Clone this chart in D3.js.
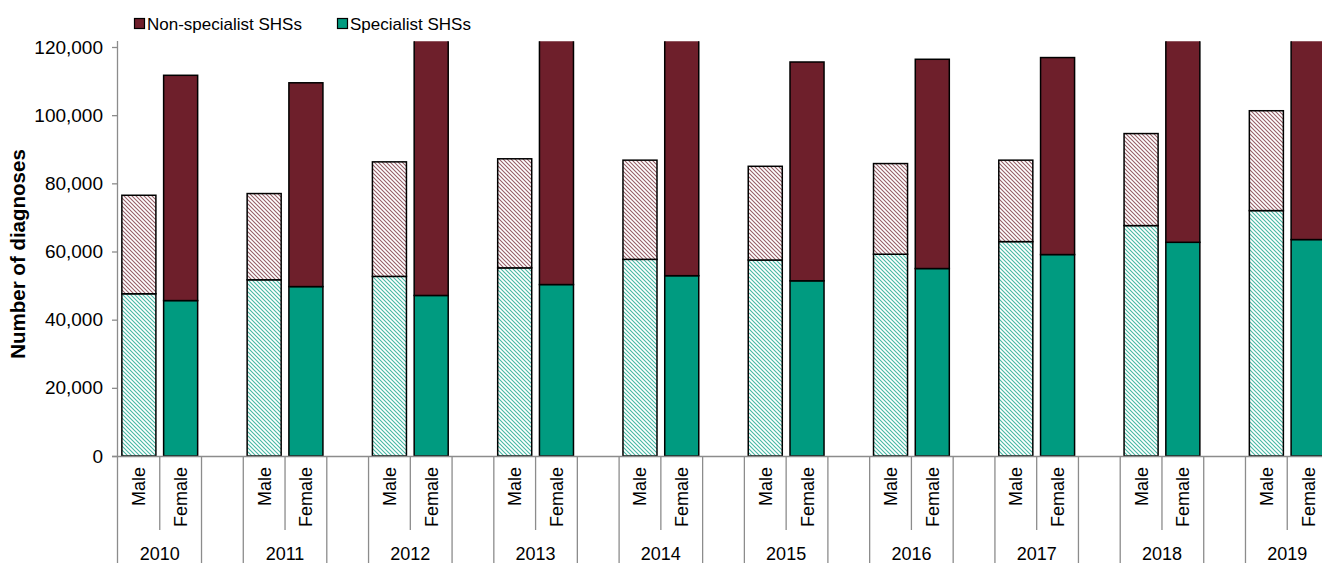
<!DOCTYPE html>
<html>
<head>
<meta charset="utf-8">
<script src="https://cdn.jsdelivr.net/npm/d3@7"></script>
<style>
  html, body { margin: 0; padding: 0; background: #fff; }
  svg { display: block; font-family: "Liberation Sans", Arial, sans-serif; }
</style>
</head>
<body>
<svg id="chart" width="1322" height="563"></svg>
<script>
// ---- data ----
const years = ["2010", "2011", "2012", "2013", "2014", "2015", "2016", "2017", "2018", "2019"];
const sexes = ["Male", "Female"];
const seriesNames = ["Non-specialist SHSs", "Specialist SHSs"];
const maleSpecialist = [47600, 51700, 52700, 55200, 57700, 57500, 59200, 62900, 67600, 72000];
const maleNonSpecialist = [28900, 25300, 33600, 32000, 29100, 27500, 26600, 23900, 27000, 29300];
const femaleSpecialist = [45600, 49700, 47100, 50300, 52900, 51400, 55000, 59100, 62700, 63500];
const femaleNonSpecialist = [66100, 59800, 76900, 76700, 73100, 64200, 61400, 57800, 65300, 66500];
const yTicks = [0, 20000, 40000, 60000, 80000, 100000, 120000];
const yTitle = "Number of diagnoses";

// ---- layout / style ----
const colNon = "#6E1F2B";
const colSpec = "#009B80";
const axisCol = "#8C8C8C";
const plotLeft = 118, plotRight = 1329, plotTop = 47, plotBottom = 456;

const svg = d3.select("#chart");
const defs = svg.append("defs");

function hatch(id, color) {
  const p = defs.append("pattern").attr("id", id)
    .attr("patternUnits", "userSpaceOnUse").attr("width", 4).attr("height", 4);
  p.append("rect").attr("width", 4).attr("height", 4).attr("fill", "#fff");
  p.append("path").attr("d", "M-1,-1 L5,5 M-1,3 L1,5 M3,-1 L5,1")
    .attr("stroke", color).attr("stroke-width", 1.1).attr("opacity", 0.72);
}
hatch("hatchNon", colNon);
hatch("hatchSpec", colSpec);

// slot keys: Male, Female per year, with a gap slot between years
const slots = [];
years.forEach((yr, i) => {
  slots.push(yr + "|Male");
  slots.push(yr + "|Female");
  if (i < years.length - 1) slots.push("gap|" + yr);
});

const x = d3.scaleBand().domain(slots).range([plotLeft, plotRight]).paddingInner(0).paddingOuter(0);
const y = d3.scaleLinear().domain([0, 120000]).range([plotBottom, plotTop]);
const bw = x.bandwidth();
const barW = bw * 0.815;

// records
const records = [];
years.forEach((yr, i) => {
  records.push({ key: yr + "|Male", sex: sexes[0], spec: maleSpecialist[i], non: maleNonSpecialist[i] });
  records.push({ key: yr + "|Female", sex: sexes[1], spec: femaleSpecialist[i], non: femaleNonSpecialist[i] });
});

defs.append("clipPath").attr("id", "plotClip")
  .append("rect").attr("x", plotLeft).attr("y", y(121700))
  .attr("width", 1400).attr("height", plotBottom - y(121700) + 2);

const g = svg.append("g").attr("clip-path", "url(#plotClip)");

records.forEach(r => {
  const bx = x(r.key) + (bw - barW) / 2;
  const isMale = r.sex === "Male";
  g.append("rect")
    .attr("x", bx).attr("width", barW)
    .attr("y", y(r.spec)).attr("height", y(0) - y(r.spec))
    .attr("fill", isMale ? "url(#hatchSpec)" : colSpec)
    .attr("stroke", "#000").attr("stroke-width", 1.5);
  const topVal = r.spec + r.non;
  g.append("rect")
    .attr("x", bx).attr("width", barW)
    .attr("y", y(topVal)).attr("height", y(r.spec) - y(topVal))
    .attr("fill", isMale ? "url(#hatchNon)" : colNon)
    .attr("stroke", "#000").attr("stroke-width", 1.5);
});

// y axis
const yAxis = svg.append("g").attr("transform", `translate(${plotLeft},0)`)
  .call(d3.axisLeft(y).tickValues(yTicks).tickFormat(d3.format(",")).tickSize(6).tickPadding(9));
yAxis.select(".domain").attr("stroke", axisCol).attr("stroke-width", 1.3)
  .attr("d", `M-0.5,${plotTop - 6}V563`);
yAxis.selectAll(".tick line").attr("stroke", axisCol).attr("stroke-width", 1.3);
yAxis.selectAll(".tick text").attr("font-size", 19).attr("fill", "#000")
  .attr("font-family", "'Liberation Sans', Arial, sans-serif");

// y title
svg.append("text")
  .attr("transform", `translate(25,254) rotate(-90)`)
  .attr("text-anchor", "middle")
  .attr("font-size", 20.5).attr("font-weight", "bold").attr("fill", "#000")
  .text(yTitle);

// x axis baseline
const xg = svg.append("g");
xg.append("line").attr("x1", plotLeft - 6).attr("x2", 1322)
  .attr("y1", plotBottom + 0.5).attr("y2", plotBottom + 0.5)
  .attr("stroke", axisCol).attr("stroke-width", 1.3);

// category separators
slots.forEach((s, i) => {
  if (i === 0) return;
  const xx = x(s);
  const isShort = s.endsWith("|Female");
  xg.append("line").attr("x1", xx).attr("x2", xx)
    .attr("y1", plotBottom).attr("y2", isShort ? 530 : 563)
    .attr("stroke", axisCol).attr("stroke-width", 1.3);
});

// sex labels
records.forEach(r => {
  const cx = x(r.key) + bw / 2 + 6.5;
  xg.append("text")
    .attr("transform", `translate(${cx},467) rotate(-90)`)
    .attr("text-anchor", "end")
    .attr("font-size", 18).attr("fill", "#000")
    .text(r.sex);
});

// year labels
years.forEach(yr => {
  const cx = x(yr + "|Female");
  xg.append("text").attr("x", cx).attr("y", 560)
    .attr("text-anchor", "middle").attr("font-size", 18).attr("fill", "#000")
    .text(yr);
});

// legend
const legendItems = [
  { name: seriesNames[0], color: colNon, lx: 134 },
  { name: seriesNames[1], color: colSpec, lx: 337 }
];
legendItems.forEach(it => {
  svg.append("rect").attr("x", it.lx + 0.5).attr("y", 18.5).attr("width", 10).attr("height", 10)
    .attr("fill", it.color).attr("stroke", "#000").attr("stroke-width", 1.2);
  svg.append("text").attr("x", it.lx + 13).attr("y", 29.5)
    .attr("font-size", 17).attr("fill", "#000").text(it.name);
});
</script>
</body>
</html>
